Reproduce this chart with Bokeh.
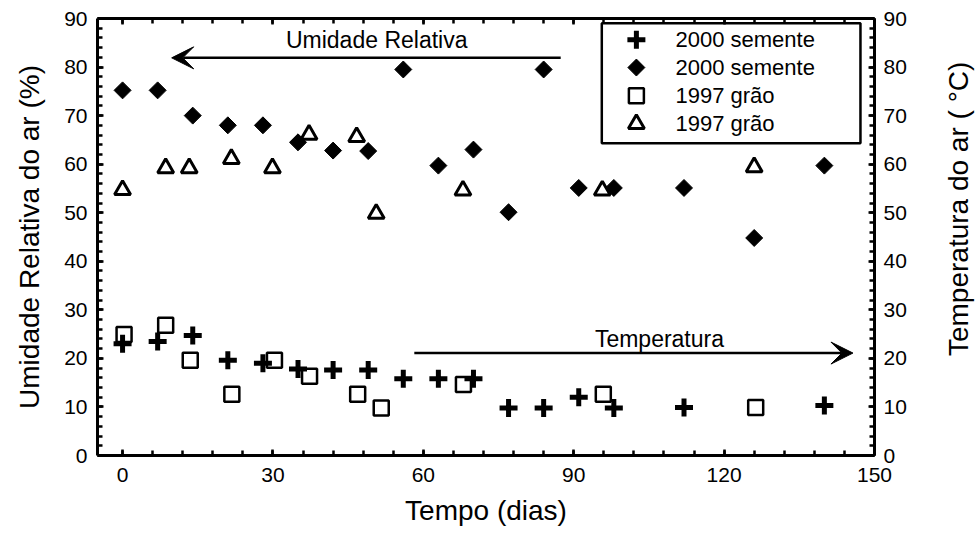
import math
from bokeh.plotting import figure
from bokeh.layouts import row
from bokeh.models import (Range1d, LinearAxis, SingleIntervalTicker,
                          Arrow, VeeHead, Label, ColumnDataSource, CustomJSTickFormatter)
from bokeh.core.properties import value
from bokeh.embed import file_html
from bokeh.resources import INLINE

FONT = "Liberation Sans"

# --- data ---
days_rh_2000 = [0, 7, 14, 21, 28, 35, 42, 49, 56, 63, 70, 77, 84, 91, 98, 112, 126, 140]
rh_2000 = [75.2, 75.2, 70.0, 68.0, 68.0, 64.5, 62.8, 62.7, 79.5, 59.7, 63.0, 50.1, 79.5,
           55.1, 55.1, 55.1, 44.8, 59.7]

days_t_2000 = [0, 7, 14, 21, 28, 35, 42, 49, 56, 63, 70, 77, 84, 91, 98, 112, 140]
t_2000 = [23.0, 23.5, 24.7, 19.6, 19.0, 17.8, 17.6, 17.6, 15.8, 15.8, 15.8, 9.8, 9.8,
          12.0, 9.8, 9.9, 10.3]

days_t_1997 = [0.3, 8.6, 13.5, 21.8, 30.3, 37.3, 46.9, 51.6, 68.0, 95.9, 126.3]
t_1997 = [24.9, 26.8, 19.6, 12.6, 19.6, 16.3, 12.6, 9.8, 14.6, 12.6, 9.9]

days_rh_1997 = [0, 8.6, 13.3, 21.7, 29.9, 37.2, 46.7, 50.6, 67.9, 95.7, 126.0]
rh_1997 = [54.7, 59.2, 59.2, 61.1, 59.2, 66.1, 65.6, 49.8, 54.6, 54.6, 59.4]

legend_labels = ["2000 semente", "2000 semente", "1997 grão", "1997 grão"]

x_label = "Tempo (dias)"
y_label = "Umidade Relativa do ar (%)"
y2_label = "Temperatura do ar ( °C)"
rh_text = "Umidade Relativa"
t_text = "Temperatura"

# --- layout constants (positions of annotations, in axis units) ---
rh_arrow_x = (87.4, 9.8)
rh_arrow_y = 81.9
rh_text_pos = (50.7, 85.6)
t_arrow_x = (58.2, 145.7)
t_arrow_y = 21.1
t_text_pos = (107.1, 23.9)
legend_box = (95.6, 147.2, 64.3, 89.0)     # left, right, bottom, top
legend_marker_x = 102.5
legend_text_x = 110.3
legend_rows = [85.6, 79.9, 74.1, 68.3]

# --- main figure ---
p = figure(width=935, height=535, output_backend="svg", toolbar_location=None,
           x_range=Range1d(-5, 150), y_range=Range1d(0, 90),
           min_border_left=97, min_border_right=61, min_border_top=18, min_border_bottom=80)
p.extra_y_ranges = {"temp": Range1d(0, 90)}
p.xgrid.visible = False
p.ygrid.visible = False
p.outline_line_color = None
p.background_fill_color = "white"
p.border_fill_color = "white"

styles = [
    dict(marker="cross", size=18, line_color="black", line_width=5),
    dict(marker="square", size=12, angle=math.pi / 4, fill_color="black", line_color="black", line_width=1),
    dict(marker="square", size=15, fill_color=None, line_color="black", line_width=2.5),
    dict(marker="triangle", size=16, fill_color=None, line_color="black", line_width=3),
]

src_t2000 = ColumnDataSource(dict(x=days_t_2000, y=t_2000))
src_rh2000 = ColumnDataSource(dict(x=days_rh_2000, y=rh_2000))
src_t1997 = ColumnDataSource(dict(x=days_t_1997, y=t_1997))
src_rh1997 = ColumnDataSource(dict(x=days_rh_1997, y=rh_1997))

p.scatter("x", "y", source=src_t2000, y_range_name="temp", **styles[0])
p.scatter("x", "y", source=src_rh2000, **styles[1])
p.scatter("x", "y", source=src_t1997, y_range_name="temp", **styles[2])
p.scatter("x", "y", source=src_rh1997, **styles[3])

# --- axes ---
def style_axis(ax):
    ax.axis_line_width = 3
    ax.axis_line_color = "black"
    ax.major_tick_in = 6
    ax.major_tick_out = 0
    ax.minor_tick_in = 5
    ax.minor_tick_out = 0
    ax.major_tick_line_width = 2.5
    ax.minor_tick_line_width = 2.5
    ax.major_label_text_font = FONT
    ax.major_label_text_font_size = "21px"
    ax.major_label_text_color = "black"
    ax.axis_label_text_font = FONT
    ax.axis_label_text_font_size = "28px"
    ax.axis_label_text_font_style = "normal"
    ax.axis_label_text_color = "black"

xa = p.xaxis[0]
xa.ticker = SingleIntervalTicker(interval=30, num_minor_ticks=5)
style_axis(xa)
xa.axis_label = x_label
xa.major_label_standoff = 12
xa.axis_label_standoff = 10

ya = p.yaxis[0]
ya.ticker = SingleIntervalTicker(interval=10, num_minor_ticks=5)
style_axis(ya)
ya.axis_label = y_label
ya.major_label_standoff = 10
ya.axis_label_standoff = 16

top = LinearAxis(ticker=SingleIntervalTicker(interval=30, num_minor_ticks=5),
                 formatter=CustomJSTickFormatter(code="return ''"))
style_axis(top)
top.major_label_standoff = 0
p.add_layout(top, "above")

right = LinearAxis(y_range_name="temp", ticker=SingleIntervalTicker(interval=10, num_minor_ticks=5))
style_axis(right)
right.major_label_standoff = 9
p.add_layout(right, "right")

# --- annotations ---
p.add_layout(Arrow(end=VeeHead(size=22, fill_color="black", line_color="black"),
                   x_start=rh_arrow_x[0], y_start=rh_arrow_y, x_end=rh_arrow_x[1], y_end=rh_arrow_y,
                   line_width=2.5, line_color="black"))
p.add_layout(Arrow(end=VeeHead(size=22, fill_color="black", line_color="black"),
                   x_start=t_arrow_x[0], y_start=t_arrow_y, x_end=t_arrow_x[1], y_end=t_arrow_y,
                   line_width=2.5, line_color="black", y_range_name="temp"))
p.add_layout(Label(x=rh_text_pos[0], y=rh_text_pos[1], text=rh_text, text_align="center",
                   text_baseline="middle", text_font=FONT, text_font_size="23px", text_color="black"))
p.add_layout(Label(x=t_text_pos[0], y=t_text_pos[1], text=t_text, text_align="center",
                   text_baseline="middle", text_font=FONT, text_font_size="23px", text_color="black",
                   y_range_name="temp"))

# --- legend (drawn by hand so that markers keep their size) ---
p.quad(left=[legend_box[0]], right=[legend_box[1]], bottom=[legend_box[2]], top=[legend_box[3]],
       fill_color="white", line_color="black", line_width=2.5)
for st, r in zip(styles, legend_rows):
    p.scatter([legend_marker_x], [r], **st)
p.text(x=[legend_text_x] * len(legend_labels), y=legend_rows, text=legend_labels,
       text_font=value(FONT), text_font_size="22px", text_color="black",
       text_align="left", text_baseline="middle")

# --- right-hand axis title (reads bottom to top), in a narrow side panel ---
p2 = figure(width=40, height=535, output_backend="svg", toolbar_location=None,
            x_range=Range1d(0, 40), y_range=Range1d(0, 535),
            x_axis_location=None, y_axis_location=None,
            min_border_left=0, min_border_right=0, min_border_top=0, min_border_bottom=0)
p2.xgrid.visible = False
p2.ygrid.visible = False
p2.outline_line_color = None
p2.background_fill_color = "white"
p2.border_fill_color = "white"
p2.text(x=[23], y=[302], text=[y2_label], angle=math.pi / 2,
        text_font=value(FONT), text_font_size="28px", text_color="black",
        text_align="center", text_baseline="middle")

layout = row(p, p2, spacing=0)
open("out.html", "w").write(file_html(layout, INLINE))
